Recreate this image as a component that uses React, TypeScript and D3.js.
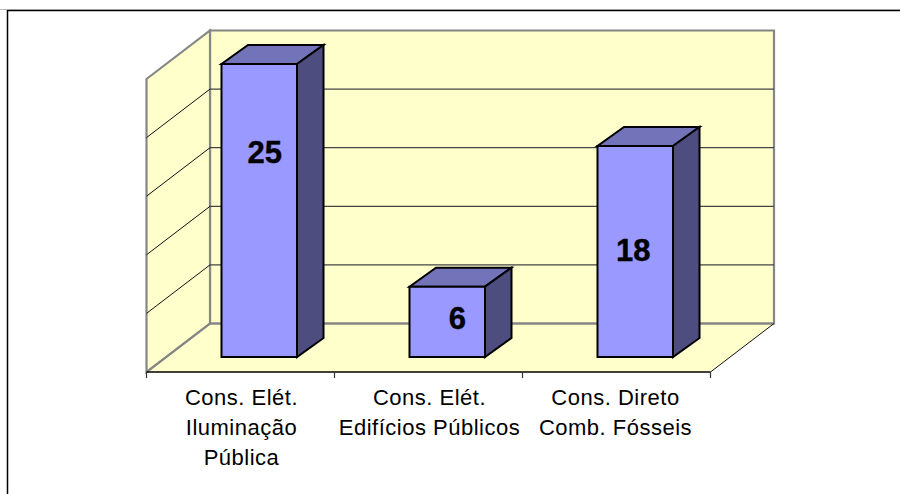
import React from "react";
import * as d3 from "d3";

const categories = ["a", "b", "c"];
const values = [25, 6, 18];
const categoryLines = [
  ["Cons. Elét.", "Iluminação", "Pública"],
  ["Cons. Elét.", "Edifícios Públicos"],
  ["Cons. Direto", "Comb. Fósseis"],
];
const yTicks = [0, 5, 10, 15, 20, 25];
const labelOffsets = [
  [5.5, 87.5],
  [10, 31],
  [-2, 103.5],
];

const WALL = "#FFFFCC";
const GRID = "#868686";
const dx = 63.5;
const dy = -48.5;
const bdx = 26.5;
const bdy = -19;

export default function App() {
  const x = d3.scaleBand<string>().domain(categories).range([146.5, 710.5]).paddingInner(0).paddingOuter(0);
  const yFront = d3.scaleLinear().domain([0, 25]).range([372, 79]);
  const barBase = 357;
  const h = d3.scaleLinear().domain([0, 25]).range([0, 293]);
  const line = d3.line();
  const poly = (p: [number, number][]) => line(p)! + "Z";
  const x0 = x.range()[0];
  const x1 = x.range()[1];
  const y0 = yFront(0);
  const yMax = yFront(25);
  const ticks = [...categories.map((c) => x(c)!), x1];

  return (
    <svg width={900} height={494} style={{ position: "absolute", left: 0, top: 0 }} fontFamily="'Liberation Sans', Arial, sans-serif">
      <rect width={900} height={494} fill="#fff" />
      <path d="M7.5 494V10.5H900" fill="none" stroke="#000" strokeWidth={1.5} />
      <path d="M0 9.5H900" fill="none" stroke="#888" strokeWidth={0.6} />
      {/* floor */}
      <path d={poly([[x0, y0], [x0 + dx, y0 + dy], [x1 + dx, y0 + dy], [x1, y0]])} fill={WALL} />
      {/* back wall */}
      <path d={poly([[x0 + dx, yMax + dy], [x1 + dx, yMax + dy], [x1 + dx, y0 + dy], [x0 + dx, y0 + dy]])} fill={WALL} stroke={GRID} strokeWidth={2.2} />
      {/* side wall */}
      <path d={poly([[x0, yMax], [x0 + dx, yMax + dy], [x0 + dx, y0 + dy], [x0, y0]])} fill={WALL} stroke={GRID} strokeWidth={2.2} />
      {/* gridlines */}
      {yTicks.slice(1, -1).map((t) => (
        <g key={t}>
          <line x1={x0} x2={x0 + dx} y1={yFront(t)} y2={yFront(t) + dy} stroke="#111" strokeWidth={1} />
          <line x1={x0 + dx} x2={x1 + dx} y1={yFront(t) + dy} y2={yFront(t) + dy} stroke="#444" strokeWidth={1.3} />
        </g>
      ))}
      <line x1={x0 + dx} x2={x1 + dx} y1={y0 + dy} y2={y0 + dy} stroke={GRID} strokeWidth={2.2} />
      <line x1={x0 + dx} x2={x0} y1={y0 + dy} y2={y0} stroke={GRID} strokeWidth={2.2} />
      <line x1={x1} x2={x1 + dx} y1={y0} y2={y0 + dy} stroke="#111" strokeWidth={1} />
      {/* axis */}
      <line x1={x0} x2={x1} y1={y0} y2={y0} stroke="#000" strokeWidth={1.6} />
      {ticks.map((t) => (
        <line key={t} x1={t} x2={t} y1={y0} y2={y0 + 6} stroke="#333" strokeWidth={1.2} />
      ))}
      {/* bars */}
      {categories.map((c, i) => {
        const l = x(c)! + 75;
        const r = l + 75.5;
        const b = barBase;
        const t = barBase - h(values[i]);
        return (
          <g key={c} stroke="#000" strokeWidth={2} strokeLinejoin="miter">
            <path d={poly([[l, t], [r, t], [r + bdx, t + bdy], [l + bdx, t + bdy]])} fill="#7373B9" />
            <path d={poly([[r, t], [r + bdx, t + bdy], [r + bdx, b + bdy], [r, b]])} fill="#4D4D7F" />
            <path d={poly([[l, t], [r, t], [r, b], [l, b]])} fill="#9999FF" />
          </g>
        );
      })}
      {/* value labels */}
      {categories.map((c, i) => (
        <text
          key={c}
          x={x(c)! + 75 + 37.75 + labelOffsets[i][0]}
          y={barBase - h(values[i]) + labelOffsets[i][1] + 11}
          textAnchor="middle"
          fontWeight={700}
          fontSize={31}
          fill="#000"
          stroke="#000"
          strokeWidth={0.4}
        >
          {values[i]}
        </text>
      ))}
      {/* category labels */}
      {categories.map((c, i) =>
        categoryLines[i].map((s, j) => (
          <text key={s} x={x(c)! + x.bandwidth() / 2 + (i === 0 ? 1 : i === 1 ? 1 : -1)} y={404.5 + j * 30} textAnchor="middle" fontSize={22} letterSpacing={0.5} fill="#000">
            {s}
          </text>
        ))
      )}
    </svg>
  );
}
